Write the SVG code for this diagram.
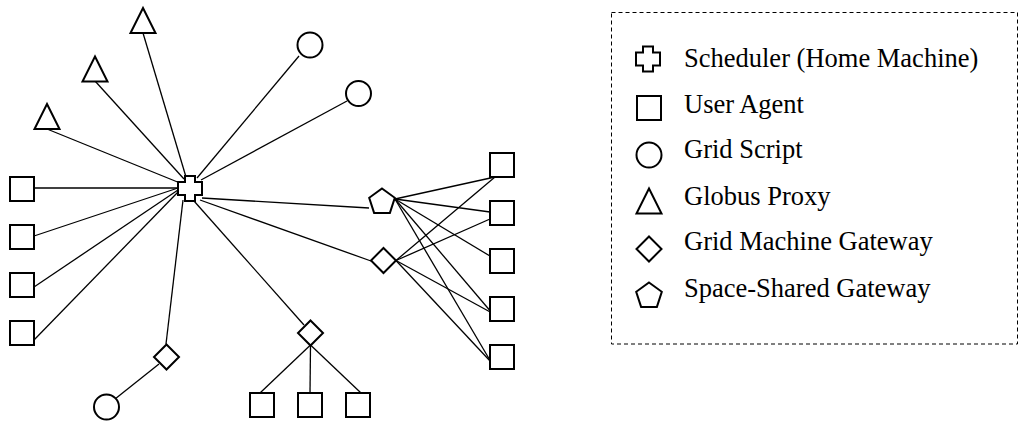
<svg xmlns="http://www.w3.org/2000/svg" width="1019" height="421" viewBox="0 0 1019 421">
<style>
.n{fill:#fff;stroke:#000;stroke-width:2}
.e{stroke:#000;stroke-width:1.3;fill:none}
.t{font-size:26.5px;fill:#000}
</style>
<defs>
<rect id="sq" class="n" x="-12" y="-12" width="24" height="24"/>
<circle id="ci" class="n" r="12.5"/>
<polygon id="tr" class="n" points="0,-12.5 12.5,12.5 -12.5,12.5"/>
<polygon id="di" class="n" points="0,-12.5 12.5,0 0,12.5 -12.5,0"/>
<polygon id="pe" class="n" points="0,-13.5 12.8,-4.2 7.9,10.9 -7.9,10.9 -12.8,-4.2"/>
<path id="cr" class="n" d="M-5,-12.5 h10 v6 h7 v13 h-7 v6 h-10 v-6 h-7 v-13 h7 z"/>
</defs>
<g id="connectors">
<line class="e" x1="143" y1="33" x2="186" y2="177"/>
<line class="e" x1="95" y1="81" x2="184" y2="179"/>
<line class="e" x1="47" y1="129" x2="180" y2="183"/>
<line class="e" x1="299" y1="56" x2="197" y2="178"/>
<line class="e" x1="347" y1="101" x2="201" y2="180"/>
<line class="e" x1="34" y1="188" x2="178" y2="188"/>
<line class="e" x1="34" y1="236" x2="178" y2="188"/>
<line class="e" x1="34" y1="287" x2="178" y2="190"/>
<line class="e" x1="34" y1="340" x2="178" y2="192"/>
<line class="e" x1="202" y1="198" x2="369" y2="208"/>
<line class="e" x1="200" y1="200" x2="371" y2="261"/>
<line class="e" x1="183" y1="200" x2="166" y2="344"/>
<line class="e" x1="194" y1="201" x2="304" y2="325"/>
<line class="e" x1="159" y1="364" x2="115" y2="399"/>
<line class="e" x1="310.5" y1="345" x2="260" y2="393"/>
<line class="e" x1="310.5" y1="345" x2="310" y2="393"/>
<line class="e" x1="310.5" y1="345" x2="361" y2="393"/>
<line class="e" x1="395" y1="199" x2="495" y2="177"/>
<line class="e" x1="395" y1="199" x2="490" y2="212"/>
<line class="e" x1="395" y1="199" x2="490" y2="256"/>
<line class="e" x1="395" y1="199" x2="492" y2="313"/>
<line class="e" x1="395" y1="199" x2="491" y2="362"/>
<line class="e" x1="396" y1="260.5" x2="495" y2="177"/>
<line class="e" x1="396" y1="260.5" x2="490" y2="219"/>
<line class="e" x1="396" y1="260.5" x2="492" y2="313"/>
<line class="e" x1="396" y1="260.5" x2="491" y2="362"/>
</g>
<g id="scheduler"><use href="#cr" x="190" y="188.5"/></g>
<g id="proxy1"><use href="#tr" x="143" y="20.5"/></g>
<g id="proxy2"><use href="#tr" x="95" y="69"/></g>
<g id="proxy3"><use href="#tr" x="47" y="116.5"/></g>
<g id="script1"><use href="#ci" x="310" y="45"/></g>
<g id="script2"><use href="#ci" x="358.5" y="93.5"/></g>
<g id="script3"><use href="#ci" x="106.5" y="407"/></g>
<g id="agentL1"><use href="#sq" x="22" y="189"/></g>
<g id="agentL2"><use href="#sq" x="22" y="237"/></g>
<g id="agentL3"><use href="#sq" x="22" y="285"/></g>
<g id="agentL4"><use href="#sq" x="22" y="333"/></g>
<g id="gatewayBL"><use href="#di" x="166.5" y="357"/></g>
<g id="gatewayBM"><use href="#di" x="310.5" y="333"/></g>
<g id="agentB1"><use href="#sq" x="262" y="405"/></g>
<g id="agentB2"><use href="#sq" x="310" y="405"/></g>
<g id="agentB3"><use href="#sq" x="358" y="405"/></g>
<g id="spaceGateway"><use href="#pe" x="382" y="202"/></g>
<g id="gatewayR"><use href="#di" x="383.5" y="260.5"/></g>
<g id="agentR1"><use href="#sq" x="502" y="165"/></g>
<g id="agentR2"><use href="#sq" x="502" y="213"/></g>
<g id="agentR3"><use href="#sq" x="502" y="261"/></g>
<g id="agentR4"><use href="#sq" x="502" y="309"/></g>
<g id="agentR5"><use href="#sq" x="502" y="357"/></g>
<g id="legend">
<rect x="611.5" y="12.5" width="406" height="331.5" fill="none" stroke="#000" stroke-width="1" stroke-dasharray="4,3"/>
<g transform="translate(648,59)"><use href="#cr"/></g>
<g transform="translate(649,108)"><use href="#sq"/></g>
<g transform="translate(649,155)"><use href="#ci"/></g>
<g transform="translate(649,201)"><use href="#tr"/></g>
<g transform="translate(649,249)"><use href="#di"/></g>
<g transform="translate(649,296)"><use href="#pe"/></g>
<g font-family="Liberation Serif, Times New Roman, DejaVu Serif, serif">
<text class="t" x="684" y="67">Scheduler (Home Machine)</text>
<text class="t" x="684" y="113">User Agent</text>
<text class="t" x="684" y="158">Grid Script</text>
<text class="t" x="684" y="205">Globus Proxy</text>
<text class="t" x="684" y="250">Grid Machine Gateway</text>
<text class="t" x="684" y="297">Space-Shared Gateway</text>
</g>
</g>
</svg>
